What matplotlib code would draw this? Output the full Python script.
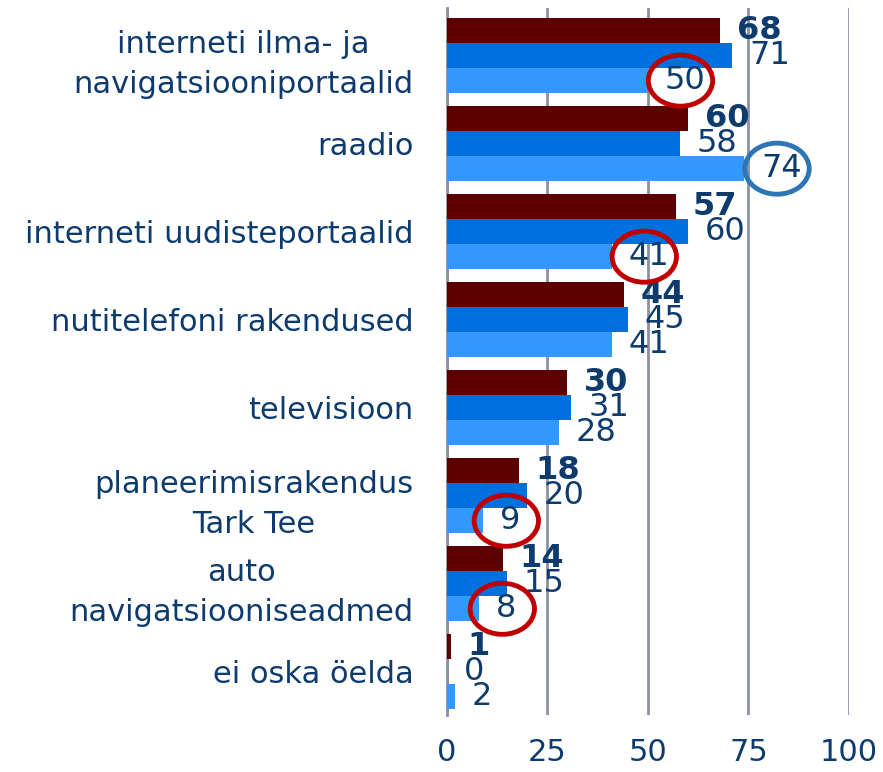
import numpy as np
import matplotlib.pyplot as plt
from matplotlib.patches import Ellipse

# Kategooriad ja kolme küsitluse tulemused (%)
kategooriad = [
    "interneti ilma- ja\nnavigatsiooniportaalid",
    "raadio",
    "interneti uudisteportaalid",
    "nutitelefoni rakendused",
    "televisioon",
    "planeerimisrakendus\nTark Tee",
    "auto\nnavigatsiooniseadmed",
    "ei oska öelda",
]
seeria_1 = [68, 60, 57, 44, 30, 18, 14, 1]
seeria_2 = [71, 58, 60, 45, 31, 20, 15, 0]
seeria_3 = [50, 74, 41, 41, 28, 9, 8, 2]
x_ticks = [0, 25, 50, 75, 100]

# Ringiga esile tõstetud väärtused: (kategooria, seeria, värv)
esiletoodud = [(0, 2, "#c00000"), (1, 2, "#2e75b6"), (2, 2, "#c00000"),
               (5, 2, "#c00000"), (6, 2, "#c00000")]

varvid = ["#5c0000", "#0070e0", "#3399ff"]
tekst = "#0d3b6e"

fig = plt.figure(figsize=(8.83, 7.72), dpi=100)
ax = fig.add_axes([0.506, 0.074, 0.4555, 0.9156])

y = np.arange(len(kategooriad))
h = 0.285
seeriad = [seeria_1, seeria_2, seeria_3]

for k, (vaartused, varv) in enumerate(zip(seeriad, varvid)):
    pos = y + (k - 1) * h
    ax.barh(pos, vaartused, height=h, color=varv, zorder=3)
    for yy, v in zip(pos, vaartused):
        ax.annotate(str(v), (v, yy), xytext=(12, 0), textcoords="offset points",
                    va="center", ha="left", fontsize=23, color=tekst,
                    fontweight="bold" if k == 0 else "normal", zorder=4)

# ellipsid valitud väärtuste ümber
for i, k, varv in esiletoodud:
    v = seeriad[k][i]
    nd = len(str(v))
    ax.add_patch(Ellipse((v + 3.5 + 2.3 * nd, y[i] + (k - 1) * h), width=16,
                         height=0.58, fill=False, edgecolor=varv, lw=3.5, zorder=5))

ax.set_xlim(0, 100)
ax.set_ylim(7.49, -0.54)
ax.set_xticks(x_ticks)
ax.set_xticklabels([str(t) for t in x_ticks])
ax.set_yticks(y)
ax.set_yticklabels(kategooriad)
for t in ax.get_yticklabels():
    t.set_multialignment("center")
    t.set_linespacing(1.5)

ax.tick_params(axis="x", length=0, pad=17, labelsize=22, labelcolor=tekst)
ax.tick_params(axis="y", length=0, pad=24, labelsize=22, labelcolor=tekst)
ax.xaxis.grid(True, color="#8a90a0", lw=2, zorder=0)
for s in ["top", "right", "bottom"]:
    ax.spines[s].set_visible(False)
ax.spines["left"].set_color("#8a90a0")
ax.spines["left"].set_linewidth(2)

fig.savefig("out.png", dpi=100)
